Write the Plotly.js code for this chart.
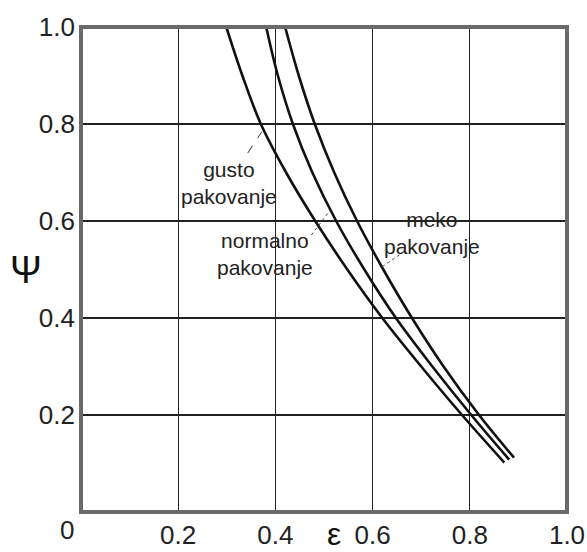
<!DOCTYPE html>
<html>
<head>
<meta charset="utf-8">
<script src="https://cdn.plot.ly/plotly-3.0.1.min.js"></script>
<style>html,body{margin:0;padding:0;background:#fff;}#chart{width:587px;height:552px;}</style>
</head>
<body>
<div id="chart"></div>
<script>
// Sphericity ψ vs porosity ε for three packing types
const psiLevels = [1.0, 0.9, 0.8, 0.7, 0.6, 0.5, 0.4, 0.3, 0.2];
const gustoEps   = [0.299, 0.332, 0.370, 0.422, 0.482, 0.548, 0.620, 0.700, 0.784, 0.871];
const gustoPsi   = psiLevels.concat([0.102]);
const normalEps  = [0.381, 0.405, 0.436, 0.476, 0.525, 0.583, 0.648, 0.723, 0.803, 0.881];
const normalPsi  = psiLevels.concat([0.108]);
const mekoEps    = [0.420, 0.448, 0.481, 0.521, 0.568, 0.622, 0.681, 0.746, 0.819, 0.891];
const mekoPsi    = psiLevels.concat([0.112]);

const xTicks = [0.2, 0.4, 0.6, 0.8, 1.0];
const xTickText = ['0.2', '0.4', '0.6', '0.8', '1.0'];
const yTicks = [0.2, 0.4, 0.6, 0.8, 1.0];
const yTickText = ['0.2', '0.4', '0.6', '0.8', '1.0'];

const labelGusto = 'gusto<br>pakovanje';
const labelNormal = 'normalno<br>pakovanje';
const labelMeko = 'meko<br>pakovanje';

const FONT = 'Liberation Sans, Arial, sans-serif';

function curve(x, y, name) {
  return {x: x, y: y, name: name, type: 'scatter', mode: 'lines',
          line: {color: '#111', width: 2.6, shape: 'spline', smoothing: 1},
          hoverinfo: 'skip', showlegend: false};
}

const data = [
  curve(gustoEps, gustoPsi, 'gusto pakovanje'),
  curve(normalEps, normalPsi, 'normalno pakovanje'),
  curve(mekoEps, mekoPsi, 'meko pakovanje')
];

const layout = {
  width: 587, height: 552,
  margin: {l: 81, r: 20, t: 27, b: 40, pad: 0},
  paper_bgcolor: '#fff', plot_bgcolor: '#fff',
  showlegend: false,
  font: {family: FONT, color: '#222'},
  xaxis: {
    range: [0, 1], tickvals: xTicks, ticktext: xTickText,
    showgrid: true, gridcolor: '#222', gridwidth: 1.3,
    zeroline: false, showline: false, ticks: '', ticklabelstandoff: 5,
    tickfont: {size: 26, family: FONT, color: '#222'},
    fixedrange: true
  },
  yaxis: {
    range: [0, 1], tickvals: yTicks, ticktext: yTickText,
    showgrid: true, gridcolor: '#222', gridwidth: 1.3,
    zeroline: false, showline: false, ticks: '', ticklabelstandoff: 5,
    tickfont: {size: 26, family: FONT, color: '#222'},
    fixedrange: true
  },
  shapes: [
    {type: 'rect', xref: 'paper', yref: 'paper', x0: 0, x1: 1, y0: 0, y1: 1,
     line: {color: '#6a6a6a', width: 4}},
    {type: 'line', xref: 'x', yref: 'y', x0: 0.343, y0: 0.740, x1: 0.372, y1: 0.784,
     line: {color: '#333', width: 1, dash: 'dash'}},
    {type: 'line', xref: 'x', yref: 'y', x0: 0.474, y0: 0.571, x1: 0.511, y1: 0.620,
     line: {color: '#444', width: 1, dash: 'dot'}},
    {type: 'line', xref: 'x', yref: 'y', x0: 0.620, y0: 0.506, x1: 0.655, y1: 0.530,
     line: {color: '#444', width: 1, dash: 'dot'}}
  ],
  annotations: [
    {xref: 'x', yref: 'y', x: 0.304, y: 0.678, text: labelGusto, showarrow: false,
     font: {size: 21, family: FONT, color: '#222'}, align: 'center'},
    {xref: 'x', yref: 'y', x: 0.379, y: 0.532, text: labelNormal, showarrow: false,
     font: {size: 21, family: FONT, color: '#222'}, align: 'center'},
    {xref: 'x', yref: 'y', x: 0.722, y: 0.575, text: labelMeko, showarrow: false,
     font: {size: 21, family: FONT, color: '#222'}, align: 'center'},
    {xref: 'paper', yref: 'paper', x: -0.029, y: 0, yshift: -18, text: '0', showarrow: false,
     font: {size: 26, family: FONT, color: '#222'}, xanchor: 'center', yanchor: 'middle'},
    {xref: 'paper', yref: 'paper', x: 0.52, y: 0, yshift: -22, text: 'ε', showarrow: false,
     font: {size: 32, family: FONT, color: '#111'}, xanchor: 'center', yanchor: 'middle'},
    {xref: 'paper', yref: 'paper', x: 0, xshift: -55, y: 0.50, text: 'Ψ', showarrow: false,
     font: {size: 38, family: FONT, color: '#111'}, xanchor: 'center', yanchor: 'middle'}
  ]
};

Plotly.newPlot('chart', data, layout, {displayModeBar: false, staticPlot: true});
</script>
</body>
</html>
